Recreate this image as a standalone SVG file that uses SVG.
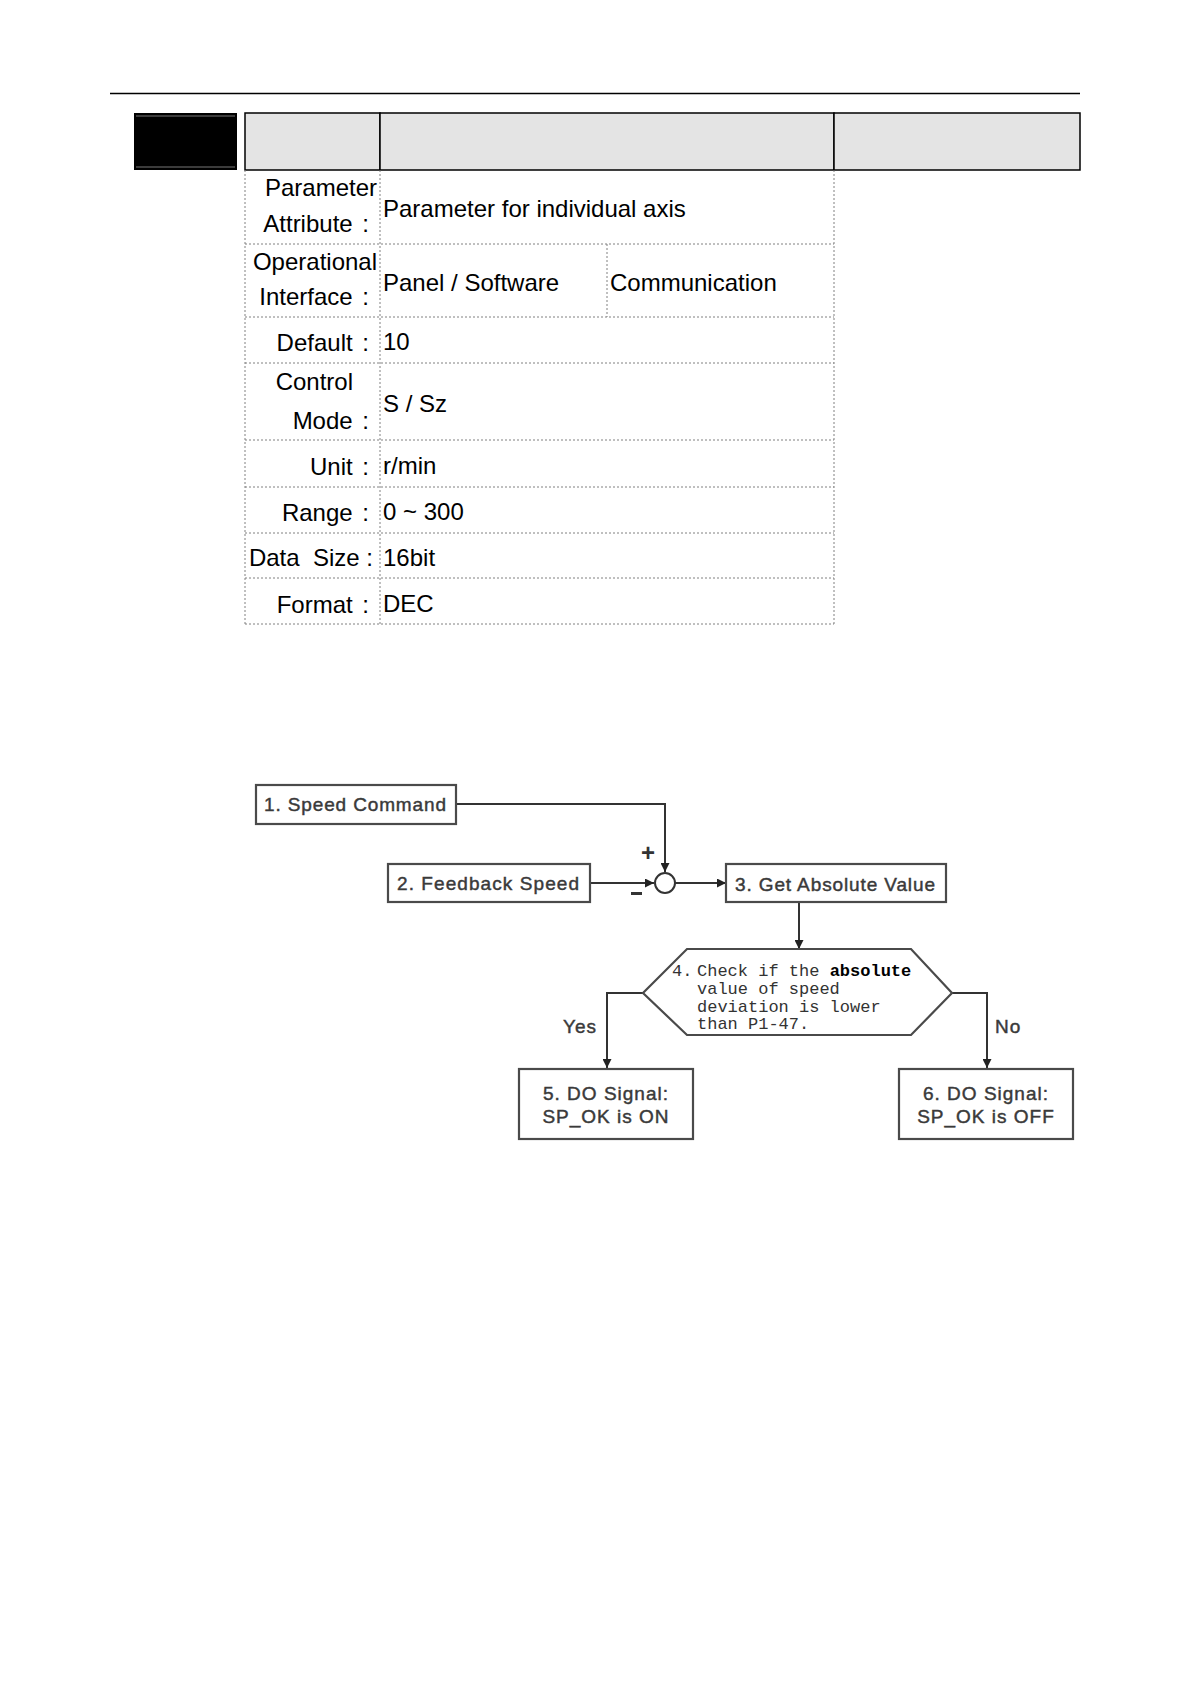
<svg xmlns="http://www.w3.org/2000/svg" width="1190" height="1684" viewBox="0 0 1190 1684">
<style>
.t{font-family:"Liberation Sans",Arial,sans-serif;font-size:24px;fill:#000}
.dot{stroke:#808080;stroke-width:1;stroke-dasharray:2 2;fill:none}
.hdr{fill:#e4e4e4;stroke:#000;stroke-width:1.5}
.box{fill:#fff;stroke:#4a4a4a;stroke-width:2.2}
.ft{font-family:"Liberation Sans",Arial,sans-serif;font-size:19px;fill:#3a3a3a;stroke:#3a3a3a;stroke-width:0.45;letter-spacing:1px}
.mono{font-family:"Liberation Mono","DejaVu Sans Mono",monospace;font-size:17px;fill:#333}
.con{fill:none;stroke:#333;stroke-width:2}
</style>
<defs>
<marker id="ah" viewBox="0 0 10 10" refX="10" refY="5" markerWidth="10" markerHeight="9" markerUnits="userSpaceOnUse" orient="auto">
<path d="M0,0 L10,5 L0,10 Z" fill="#222"/>
</marker>
</defs>
<rect width="1190" height="1684" fill="#fff"/>
<line x1="110" y1="93.5" x2="1080" y2="93.5" stroke="#000" stroke-width="1.5"/>

<g id="header">
<rect x="134" y="113" width="103" height="57" fill="#000"/>
<line x1="136" y1="116" x2="235" y2="116" stroke="#777" stroke-width="1.2"/>
<line x1="136" y1="167" x2="235" y2="167" stroke="#777" stroke-width="1.2"/>
<rect class="hdr" x="245" y="113" width="135" height="57"/>
<rect class="hdr" x="380" y="113" width="454" height="57"/>
<rect class="hdr" x="834" y="113" width="246" height="57"/>
</g>

<g id="table">
<line class="dot" x1="245" y1="170" x2="245" y2="624"/>
<line class="dot" x1="380" y1="170" x2="380" y2="624"/>
<line class="dot" x1="834" y1="170" x2="834" y2="624"/>
<line class="dot" x1="607" y1="244" x2="607" y2="317"/>
<line class="dot" x1="245" y1="244" x2="834" y2="244"/>
<line class="dot" x1="245" y1="317" x2="834" y2="317"/>
<line class="dot" x1="245" y1="363" x2="834" y2="363"/>
<line class="dot" x1="245" y1="440" x2="834" y2="440"/>
<line class="dot" x1="245" y1="487" x2="834" y2="487"/>
<line class="dot" x1="245" y1="533" x2="834" y2="533"/>
<line class="dot" x1="245" y1="578" x2="834" y2="578"/>
<line class="dot" x1="245" y1="624" x2="834" y2="624"/>

<text class="t" x="377" y="196" text-anchor="end">Parameter</text>
<text class="t" x="369" y="232" text-anchor="end">Attribute <tspan dx="3">:</tspan></text>
<text class="t" x="383" y="217">Parameter for individual axis</text>

<text class="t" x="377" y="270" text-anchor="end">Operational</text>
<text class="t" x="369" y="305" text-anchor="end">Interface <tspan dx="3">:</tspan></text>
<text class="t" x="383" y="291">Panel / Software</text>
<text class="t" x="610" y="291">Communication</text>

<text class="t" x="369" y="351" text-anchor="end">Default <tspan dx="3">:</tspan></text>
<text class="t" x="383" y="350">10</text>

<text class="t" x="353" y="390" text-anchor="end">Control</text>
<text class="t" x="369" y="429" text-anchor="end">Mode <tspan dx="3">:</tspan></text>
<text class="t" x="383" y="412">S / Sz</text>

<text class="t" x="369" y="475" text-anchor="end">Unit <tspan dx="3">:</tspan></text>
<text class="t" x="383" y="474">r/min</text>

<text class="t" x="369" y="521" text-anchor="end">Range <tspan dx="3">:</tspan></text>
<text class="t" x="383" y="520">0 ~ 300</text>

<text class="t" x="373" y="566" text-anchor="end" xml:space="preserve">Data  Size :</text>
<text class="t" x="383" y="566">16bit</text>

<text class="t" x="369" y="613" text-anchor="end">Format <tspan dx="3">:</tspan></text>
<text class="t" x="383" y="612">DEC</text>
</g>

<g id="connectors">
<polyline class="con" points="456,804 665,804 665,872" marker-end="url(#ah)"/>
<line class="con" x1="590" y1="883" x2="654" y2="883" marker-end="url(#ah)"/>
<line class="con" x1="675" y1="883" x2="726" y2="883" marker-end="url(#ah)"/>
<line class="con" x1="799" y1="902" x2="799" y2="949" marker-end="url(#ah)"/>
<polyline class="con" points="643,993 607,993 607,1068" marker-end="url(#ah)"/>
<polyline class="con" points="951,993 987,993 987,1068" marker-end="url(#ah)"/>
<text x="648" y="861" text-anchor="middle" font-family="Liberation Sans,Arial,sans-serif" font-size="24" font-weight="bold" fill="#333">+</text>
<rect x="631" y="892" width="11" height="3" fill="#333"/>
<text class="ft" x="563" y="1033">Yes</text>
<text class="ft" x="995" y="1033">No</text>
</g>

<g id="sum">
<circle cx="665" cy="883" r="10" fill="#fff" stroke="#333" stroke-width="2"/>
</g>

<g id="n1">
<rect class="box" x="256" y="785" width="200" height="39"/>
<text class="ft" x="264" y="811" textLength="183" lengthAdjust="spacing">1. Speed Command</text>
</g>
<g id="n2">
<rect class="box" x="388" y="864" width="202" height="38"/>
<text class="ft" x="397" y="890" textLength="183" lengthAdjust="spacing">2. Feedback Speed</text>
</g>
<g id="n3">
<rect class="box" x="726" y="864" width="220" height="38"/>
<text class="ft" x="735" y="891" textLength="201" lengthAdjust="spacing">3. Get Absolute Value</text>
</g>
<g id="n4">
<polygon points="687,949 911,949 952,993 911,1035 687,1035 643,993" fill="#fff" stroke="#4a4a4a" stroke-width="2.2"/>
<text class="mono" x="672" y="976">4.</text>
<text class="mono" x="697" y="976" xml:space="preserve">Check if the <tspan font-weight="bold" fill="#000">absolute</tspan></text>
<text class="mono" x="697" y="993.5">value of speed</text>
<text class="mono" x="697" y="1011.5">deviation is lower</text>
<text class="mono" x="697" y="1029">than P1-47.</text>
</g>
<g id="n5">
<rect class="box" x="519" y="1069" width="174" height="70"/>
<text class="ft" x="606" y="1100" text-anchor="middle">5. DO Signal:</text>
<text class="ft" x="606" y="1123" text-anchor="middle">SP_OK is ON</text>
</g>
<g id="n6">
<rect class="box" x="899" y="1069" width="174" height="70"/>
<text class="ft" x="986" y="1100" text-anchor="middle">6. DO Signal:</text>
<text class="ft" x="986" y="1123" text-anchor="middle">SP_OK is OFF</text>
</g>
</svg>
